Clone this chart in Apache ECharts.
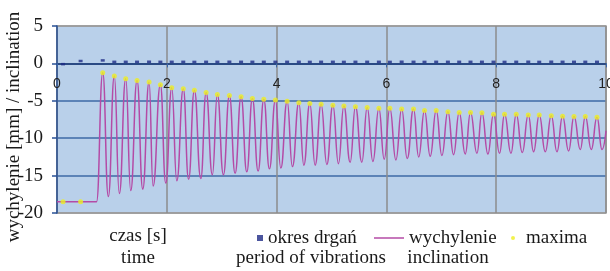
<!DOCTYPE html>
<html>
<head>
<meta charset="utf-8">
<script src="https://cdn.jsdelivr.net/npm/echarts@6/dist/echarts.min.js"></script>
<style>
  html, body { margin: 0; padding: 0; background: #fff; }
  #main { width: 610px; height: 271px; }
</style>
</head>
<body>
<div id="main"></div>
<script>
// czasy maksimów [s] (pierwsze dwa przed wymuszeniem)
var maxT = [0.11, 0.43, 0.833, 1.044, 1.252, 1.458, 1.677, 1.883, 2.090, 2.300, 2.502,
  2.716, 2.921, 3.140, 3.353, 3.559, 3.767, 3.978, 4.192, 4.405, 4.605, 4.811,
  5.025, 5.225, 5.436, 5.650, 5.863, 6.063, 6.278, 6.494, 6.694, 6.907, 7.120,
  7.326, 7.532, 7.740, 7.951, 8.152, 8.365, 8.584, 8.784, 9.003, 9.209, 9.417,
  9.623, 9.836];
// wartości maksimów [mm]
var maxV = [-18.5, -18.5, -1.25, -1.7, -2.05, -2.3, -2.5, -2.85, -3.25, -3.4, -3.6,
  -3.9, -4.15, -4.3, -4.45, -4.7, -4.8, -4.9, -5.05, -5.25, -5.35, -5.45,
  -5.6, -5.7, -5.8, -5.9, -6.0, -6.0, -6.1, -6.1, -6.3, -6.3, -6.45,
  -6.55, -6.55, -6.6, -6.8, -6.8, -6.8, -6.9, -6.9, -7.0, -7.05, -7.1,
  -7.1, -7.2];
// okres drgań [s] w chwilach maksimów
var periodV = [-0.1, 0.32, 0.4, 0.21, 0.21, 0.21, 0.22, 0.21, 0.21, 0.21, 0.2,
  0.21, 0.21, 0.22, 0.21, 0.21, 0.21, 0.21, 0.21, 0.21, 0.2, 0.21,
  0.21, 0.2, 0.21, 0.21, 0.21, 0.2, 0.22, 0.21, 0.2, 0.21, 0.21,
  0.21, 0.21, 0.21, 0.21, 0.2, 0.21, 0.22, 0.2, 0.22, 0.21, 0.21,
  0.21, 0.21];
// minima
var minT = [0.935, 1.135, 1.343, 1.562, 1.750, 1.981, 2.182, 2.397, 2.619, 2.830,
  3.031, 3.244, 3.457, 3.663, 3.869, 4.077, 4.288, 4.496, 4.702, 4.915,
  5.127, 5.340, 5.553, 5.754, 5.960, 6.173, 6.379, 6.588, 6.798, 7.011,
  7.223, 7.436, 7.649, 7.849, 8.061, 8.269, 8.475, 8.681, 8.894, 9.107,
  9.319, 9.532, 9.732, 9.927];
var minV = [-17.8, -17.4, -17.0, -16.8, -16.4, -16.0, -15.7, -15.5, -15.4, -14.9,
  -14.9, -14.7, -14.5, -14.4, -14.1, -14.0, -13.8, -13.6, -13.6, -13.5,
  -13.4, -13.2, -13.2, -13.1, -12.8, -12.9, -12.7, -12.5, -12.4, -12.3,
  -12.2, -12.1, -12.0, -12.1, -12.0, -12.0, -11.9, -11.8, -11.8, -11.8,
  -11.7, -11.5, -11.5, -11.5];
// początek i koniec przebiegu
var startPts = [[0, -18.5], [0.72, -18.5]];
var endPts = [[10, -9.0]];

var yTicks = [-20, -15, -10, -5, 0, 5];

var serif = 'Liberation Serif';

// przebieg wychylenia: naprzemiennie maksimum / minimum
var lineData = startPts.slice();
for (var i = 2; i < maxT.length; i++) {
  lineData.push([maxT[i], maxV[i]]);
  if (i - 2 < minT.length) lineData.push([minT[i - 2], minV[i - 2]]);
}
lineData = lineData.concat(endPts);

var maxData = maxT.map(function (t, i) { return [t, maxV[i]]; });
var periodData = maxT.map(function (t, i) { return [t, periodV[i]]; });

var chart = echarts.init(document.getElementById('main'));
var option = {
  animation: false,
  grid: {
    left: 57, right: 4, top: 26, bottom: 58,
    outerBoundsMode: 'none',
    containLabel: false,
    show: true,
    backgroundColor: '#b9d0ea',
    borderColor: '#9a9a9a',
    borderWidth: 1.5
  },
  xAxis: {
    type: 'value',
    min: 0, max: 10, interval: 2,
    offset: -149.6,
    axisLine: { onZero: false, lineStyle: { color: '#22427e', width: 1.5 } },
    axisTick: { show: true, length: 4, lineStyle: { color: '#3a66a8' } },
    axisLabel: { fontFamily: 'Liberation Sans', fontSize: 14, color: '#222', margin: 14, showMaxLabel: true },
    splitLine: { show: true, lineStyle: { color: '#8c8c8c', width: 1.5 } }
  },
  yAxis: {
    type: 'value',
    min: yTicks[0], max: yTicks[yTicks.length - 1], interval: 5,
    axisLine: { show: true, lineStyle: { color: '#2a5296', width: 1.5 } },
    axisTick: { show: true, length: 5, lineStyle: { color: '#2a5296', width: 1.5 } },
    axisLabel: { fontFamily: serif, fontSize: 19, color: '#1a1a1a', margin: 14 },
    splitLine: {
      show: true,
      lineStyle: {
        color: ['#9a9a9a', '#3e6aa6', '#3e6aa6', '#3e6aa6', '#22427e', '#9a9a9a'],
        width: 1.5
      }
    }
  },
  legend: [{
    data: [{ name: 'okres drgań', icon: 'path://M0,0h1v1h-1z' }],
    left: 252, top: 223, itemWidth: 6, itemHeight: 6,
    textStyle: { fontFamily: serif, fontSize: 19, color: '#1a1a1a', lineHeight: 20 }
  }, {
    data: [{ name: 'wychylenie', icon: 'path://M0,0h30v1.5h-30z' }],
    left: 369, top: 223, itemWidth: 30, itemHeight: 6,
    textStyle: { fontFamily: serif, fontSize: 19, color: '#1a1a1a', lineHeight: 20 }
  }, {
    data: [{ name: 'maxima', icon: 'circle' }],
    left: 506, top: 223, itemWidth: 16, itemHeight: 4,
    textStyle: { fontFamily: serif, fontSize: 19, color: '#1a1a1a', lineHeight: 20 }
  }],
  graphic: [
    // opis osi Y
    { type: 'text', x: 14, y: 127, rotation: Math.PI / 2,
      style: { text: 'wychylenie [mm] / inclination', align: 'center', verticalAlign: 'middle', font: '19px "Liberation Serif"', fill: '#1a1a1a' } },
    { type: 'text', style: { text: 'czas [s]\ntime', x: 138, y: 247.5, align: 'center', verticalAlign: 'middle', font: '19px "Liberation Serif"', lineHeight: 22, fill: '#1a1a1a' } },
    { type: 'text', style: { text: 'period of vibrations', x: 311, y: 258.5, align: 'center', verticalAlign: 'middle', font: '19px "Liberation Serif"', fill: '#1a1a1a' } },
    { type: 'text', style: { text: 'inclination', x: 448, y: 258.5, align: 'center', verticalAlign: 'middle', font: '19px "Liberation Serif"', fill: '#1a1a1a' } }
  ],
  series: [{
    name: 'wychylenie',
    type: 'line',
    data: lineData,
    symbol: 'none',
    showSymbol: false,
    smooth: 0.5,
    smoothMonotone: 'x',
    lineStyle: { color: '#b44ba6', width: 1.5 },
    itemStyle: { color: '#b44ba6' },
    z: 2
  }, {
    name: 'maxima',
    type: 'scatter',
    data: maxData,
    symbol: 'circle',
    symbolSize: 5,
    itemStyle: { color: '#eeee22' },
    z: 3
  }, {
    name: 'okres drgań',
    type: 'scatter',
    data: periodData,
    symbol: 'rect',
    symbolSize: [4, 2.5],
    itemStyle: { color: '#1e2a86' },
    z: 4
  }]
};
chart.setOption(option);
window.onresize = function () {
  chart.resize();
};
</script>
</body>
</html>
